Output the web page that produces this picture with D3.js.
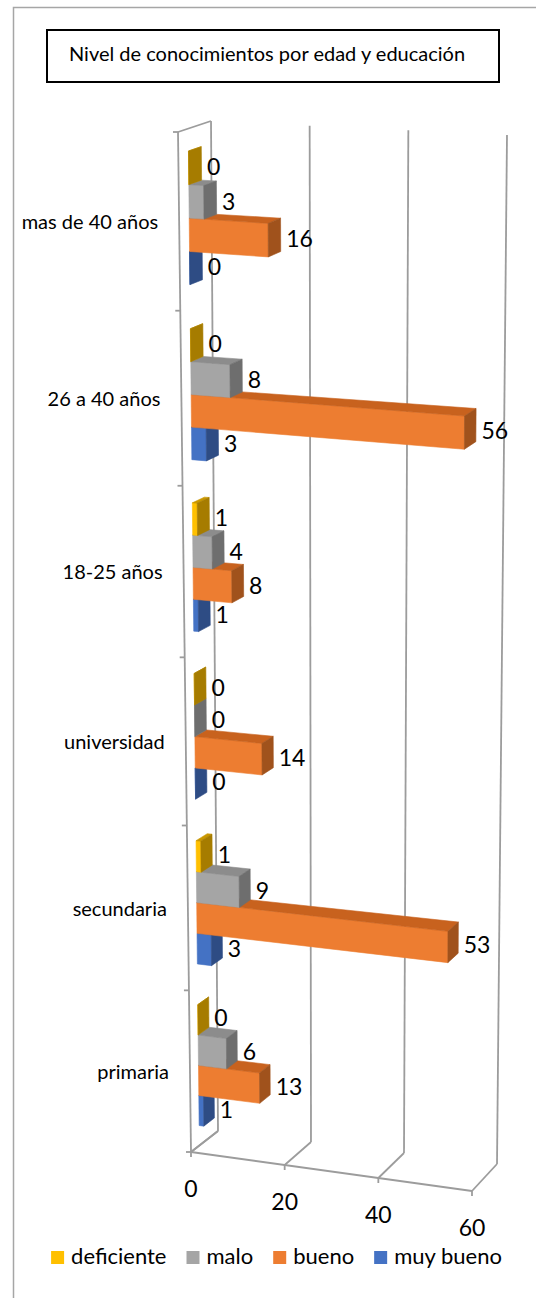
<!DOCTYPE html>
<html lang="es">
  <head>
    <meta charset="UTF-8" />
    <title>Nivel de conocimientos por edad y educación</title>
    <style>
      body { margin: 0; background: #fff; }
      text { font-family: Lato, "Open Sans", sans-serif; fill: #000; }
    </style>
  </head>
  <body>
    <svg id="svg" width="536" height="1298"></svg>

    <script src="https://d3js.org/d3.v7.min.js"></script>
    <script>
      const title = "Nivel de conocimientos por edad y educación";
      const categories = ["mas de 40 años", "26 a 40 años", "18-25 años", "universidad", "secundaria", "primaria"];
      const series = ["deficiente", "malo", "bueno", "muy bueno"];
      const deficiente = [0, 0, 1, 0, 1, 0];
      const malo = [3, 8, 4, 0, 9, 6];
      const bueno = [16, 56, 8, 14, 53, 13];
      const muyBueno = [0, 3, 1, 0, 3, 1];
      const valueTicks = [0, 20, 40, 60];

      const values = [deficiente, malo, bueno, muyBueno];
      const colors = [
        { front: "#FFC000", top: "#C99700", end: "#A67C00" },
        { front: "#A5A5A5", top: "#8C8C8C", end: "#6E6E6E" },
        { front: "#ED7D31", top: "#C8621E", end: "#A0521C" },
        { front: "#4472C4", top: "#3A61A7", end: "#2E4C84" },
      ];

      const svg = d3.select("#svg");

      // outer chart border (right/bottom edges fall outside the picture)
      svg.append("rect")
        .attr("x", 13.5).attr("y", 7.5)
        .attr("width", 600).attr("height", 1400)
        .attr("fill", "none").attr("stroke", "#a6a6a6").attr("stroke-width", 1.5);

      // title box
      svg.append("rect")
        .attr("x", 47).attr("y", 30).attr("width", 452).attr("height", 52)
        .attr("fill", "#fff").attr("stroke", "#000").attr("stroke-width", 2);
      svg.append("text")
        .attr("x", 69).attr("y", 61)
        .style("font-size", "20px")
        .text(title);

      // 3d box: front plane (depth 0) and back plane (depth 1) corners
      const frontPlane = { tl: [178, 132], tr: [476, 152], bl: [191, 1152], br: [472, 1191] };
      const backPlane = { tl: [211, 121], tr: [507, 135], bl: [218, 1131], br: [497, 1164] };
      const persp = 0.062;
      const warp = (t) => ((1 + persp) * t) / (1 + persp * t);

      function bilin(c, u, t) {
        const lx = c.tl[0] + t * (c.bl[0] - c.tl[0]), ly = c.tl[1] + t * (c.bl[1] - c.tl[1]);
        const rx = c.tr[0] + t * (c.br[0] - c.tr[0]), ry = c.tr[1] + t * (c.br[1] - c.tr[1]);
        return [lx + u * (rx - lx), ly + u * (ry - ly)];
      }
      function proj(u, t, d) {
        const tw = warp(t);
        const f = bilin(frontPlane, u, tw), b = bilin(backPlane, u, tw);
        return [f[0] + d * (b[0] - f[0]), f[1] + d * (b[1] - f[1])];
      }

      const x = d3.scaleLinear().domain([0, 60]).range([0, 1]);
      const y = d3.scaleBand().domain(categories).range([0, 1]).paddingInner(0.25).paddingOuter(0.125);
      const ys = d3.scaleBand().domain(series).range([0, y.bandwidth()]);
      const d0 = 0.31, d1 = 0.7;

      const grid = svg.append("g").attr("fill", "none").attr("stroke", "#9c9c9c").attr("stroke-width", 1.8);
      const line = d3.line();

      // left wall
      grid.append("path").attr("d", line([proj(0, 0, 0), proj(0, 1, 0)]));
      grid.append("path").attr("d", line([proj(0, 0, 0), proj(0, 0, 1)]));
      grid.append("path").attr("d", line([proj(0, 1, 0), proj(0, 1, 1)]));
      // floor front edge
      grid.append("path").attr("d", line([proj(0, 1, 0), proj(1, 1, 0)]));

      // back wall gridlines + floor diagonals + value ticks
      valueTicks.forEach((v) => {
        const u = x(v);
        grid.append("path").attr("d", line([proj(u, 0, 1), proj(u, 1, 1)]));
        grid.append("path").attr("d", line([proj(u, 1, 0), proj(u, 1, 1)]));
        const p = proj(u, 1, 0);
        grid.append("path").attr("d", line([p, [p[0], p[1] + 5]]));
        svg.append("text")
          .attr("x", p[0]).attr("y", p[1] + 45)
          .attr("text-anchor", "middle")
          .style("font-size", "23px")
          .text(v);
      });

      // category ticks
      d3.range(categories.length + 1).forEach((i) => {
        const p = proj(0, i / categories.length, 0);
        grid.append("path").attr("d", line([[p[0] - 5, p[1]], p]));
      });

      // category labels
      categories.forEach((c) => {
        const p = proj(0, y(c) + y.bandwidth() / 2, 0);
        svg.append("text")
          .attr("x", p[0] - 21).attr("y", p[1] + 7.5)
          .attr("text-anchor", "end")
          .style("font-size", "20px")
          .text(c);
      });

      // bars
      const bars = [];
      categories.forEach((c, ci) => {
        series.forEach((s, si) => {
          bars.push({ ci, si, c, s, v: values[si][ci] });
        });
      });
      bars.sort((a, b) => b.ci - a.ci || b.si - a.si);

      const barG = svg.append("g");
      bars.forEach((b) => {
        const t0 = y(b.c) + ys(b.s), t1 = t0 + ys.bandwidth();
        const u1 = x(b.v);
        const col = colors[b.si];
        const faces = [
          { pts: [proj(0, t0, d0), proj(u1, t0, d0), proj(u1, t1, d0), proj(0, t1, d0)], fill: col.front },
          { pts: [proj(0, t0, d0), proj(u1, t0, d0), proj(u1, t0, d1), proj(0, t0, d1)], fill: col.top },
          { pts: [proj(u1, t0, d0), proj(u1, t0, d1), proj(u1, t1, d1), proj(u1, t1, d0)], fill: col.end },
        ];
        faces.forEach((f) => {
          barG.append("path")
            .attr("d", line(f.pts) + "Z")
            .attr("fill", f.fill)
            .attr("stroke", f.fill)
            .attr("stroke-width", 0.6)
            .attr("stroke-linejoin", "round");
        });
      });

      // value labels
      bars.forEach((b) => {
        const tm = y(b.c) + ys(b.s) + ys.bandwidth() / 2;
        const u1 = x(b.v);
        const px = proj(u1, tm, d1)[0];
        const py = proj(u1, tm, 0.4)[1];
        svg.append("text")
          .attr("x", px + 5.5).attr("y", py + 8.3)
          .style("font-size", "23px")
          .text(b.v);
      });

      // legend
      const legend = svg.append("g");
      let lx = 0;
      series.forEach((s, si) => {
        const item = legend.append("g").attr("transform", `translate(${lx},0)`);
        item.append("rect")
          .attr("x", 0).attr("y", -13).attr("width", 13).attr("height", 13)
          .attr("fill", colors[si].front);
        const txt = item.append("text")
          .attr("x", 20).attr("y", 0)
          .style("font-size", "22px")
          .text(s);
        lx += 20 + txt.node().getComputedTextLength() + 20;
      });
      const legendW = lx - 20;
      legend.attr("transform", `translate(${276.5 - legendW / 2},1264)`);
    </script>
  </body>
</html>
